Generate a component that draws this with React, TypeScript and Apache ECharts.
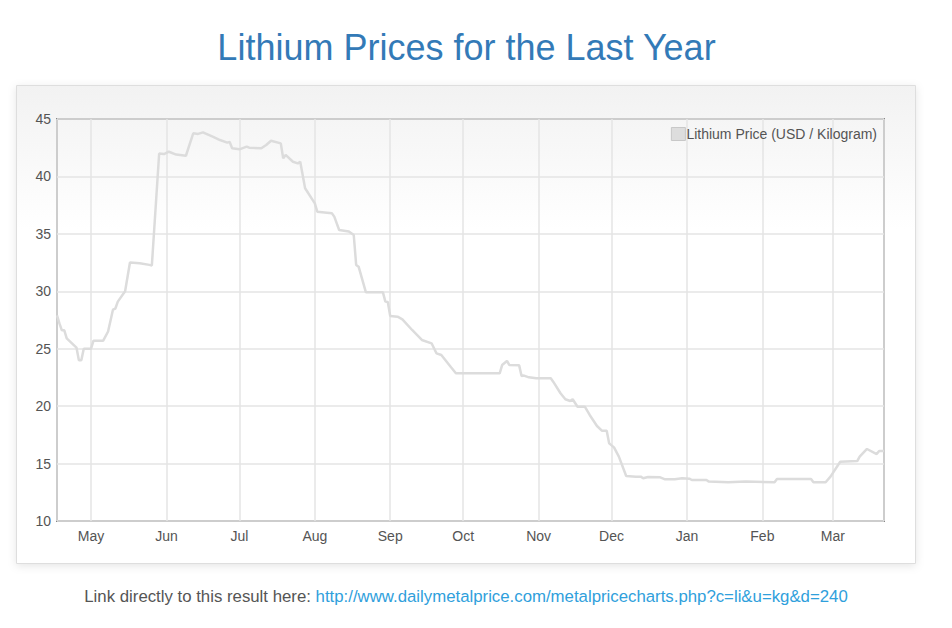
import React, { useEffect, useRef } from "react";
import * as echarts from "echarts";

const TITLE = "Lithium Prices for the Last Year";
const SERIES_NAME = "Lithium Price (USD / Kilogram)";
const FOOTER_LABEL = "Link directly to this result here: ";
const FOOTER_LINK = "http://www.dailymetalprice.com/metalpricecharts.php?c=li&u=kg&d=240";
const MONTHS = ["Jan", "Feb", "Mar", "Apr", "May", "Jun", "Jul", "Aug", "Sep", "Oct", "Nov", "Dec"];
const X_MIN = "2023-04-17";
const X_MAX = "2024-03-22";
const Y_MIN = 10;
const Y_MAX = 45;
const Y_STEP = 5;

const dates = [
  "2023-04-17", "2023-04-18", "2023-04-19", "2023-04-20", "2023-04-21", "2023-04-25", "2023-04-26", "2023-04-27", "2023-04-28",
  "2023-05-01", "2023-05-02", "2023-05-06", "2023-05-08", "2023-05-10", "2023-05-11", "2023-05-12", "2023-05-15", "2023-05-17", "2023-05-21", "2023-05-25", "2023-05-26", "2023-05-29", "2023-05-31",
  "2023-06-02", "2023-06-05", "2023-06-09", "2023-06-12", "2023-06-14", "2023-06-16", "2023-06-20", "2023-06-23", "2023-06-26", "2023-06-27", "2023-06-28",
  "2023-07-01", "2023-07-04", "2023-07-05", "2023-07-10", "2023-07-12", "2023-07-14", "2023-07-18", "2023-07-19", "2023-07-20", "2023-07-23", "2023-07-25", "2023-07-26", "2023-07-28",
  "2023-08-01", "2023-08-02", "2023-08-08", "2023-08-09", "2023-08-11", "2023-08-15", "2023-08-17", "2023-08-18", "2023-08-19", "2023-08-22", "2023-08-29", "2023-08-30", "2023-08-31",
  "2023-09-01", "2023-09-04", "2023-09-06", "2023-09-10", "2023-09-14", "2023-09-18", "2023-09-20", "2023-09-22", "2023-09-26", "2023-09-28",
  "2023-10-16", "2023-10-17", "2023-10-19", "2023-10-20", "2023-10-24", "2023-10-25", "2023-10-26", "2023-10-28", "2023-10-31",
  "2023-11-06", "2023-11-07", "2023-11-10", "2023-11-12", "2023-11-14", "2023-11-15", "2023-11-17", "2023-11-20", "2023-11-22", "2023-11-25", "2023-11-27", "2023-11-29", "2023-11-30",
  "2023-12-02", "2023-12-04", "2023-12-07", "2023-12-11", "2023-12-13", "2023-12-14", "2023-12-16", "2023-12-21", "2023-12-23", "2023-12-27", "2023-12-30",
  "2024-01-02", "2024-01-03", "2024-01-09", "2024-01-10", "2024-01-18", "2024-01-25",
  "2024-02-06", "2024-02-07", "2024-02-21", "2024-02-22", "2024-02-27", "2024-02-29",
  "2024-03-04", "2024-03-11", "2024-03-12", "2024-03-15", "2024-03-19", "2024-03-20", "2024-03-22",
];

const prices = [
  27.9, 27.2, 26.6, 26.6, 25.9, 25.1, 24.0, 24.0, 25.0,
  25.0, 25.7, 25.7, 26.5, 28.4, 28.5, 29.1, 30.0, 32.5, 32.45, 32.3, 32.25, 42.0, 41.95,
  42.15, 41.9, 41.8, 43.75, 43.7, 43.84, 43.46, 43.17, 42.94, 43.0, 42.45,
  42.36, 42.6, 42.5, 42.45, 42.74, 43.11, 42.88, 41.58, 41.87, 41.28, 41.14, 41.28, 38.97,
  37.66, 36.93, 36.79, 36.5, 35.34, 35.2, 34.9, 32.29, 32.14, 29.91, 29.91, 29.1, 29.07,
  27.85, 27.79, 27.56, 26.63, 25.76, 25.47, 24.6, 24.45, 23.38, 22.86,
  22.86, 23.58, 23.93, 23.58, 23.55, 22.63, 22.66, 22.51, 22.42,
  22.42, 22.13, 21.12, 20.6, 20.45, 20.6, 19.95, 19.95, 19.23, 18.27, 17.86, 17.86, 16.76,
  16.41, 15.6, 13.92, 13.86, 13.86, 13.72, 13.83, 13.8, 13.63, 13.63, 13.72,
  13.68, 13.57, 13.57, 13.43, 13.37, 13.43,
  13.37, 13.66, 13.66, 13.37, 13.37, 13.86,
  15.16, 15.22, 15.6, 16.27, 15.83, 16.1, 16.1,
];

const DAY = 86400000;

export default function App() {
  const ref = useRef<HTMLDivElement>(null);

  useEffect(() => {
    if (!ref.current) return;
    const chart = echarts.init(ref.current, undefined, { renderer: "svg" });
    const font = "'Liberation Sans', Arial, Helvetica, sans-serif";
    const seriesData = dates.map((d, i) => [d, prices[i]]);

    chart.setOption({
      animation: false,
      textStyle: { fontFamily: font },
      graphic: [
        {
          type: "rect",
          z: -10,
          silent: true,
          shape: { x: 16.5, y: 85.5, width: 899, height: 478 },
          style: {
            fill: new echarts.graphic.LinearGradient(0, 0, 0, 1, [
              { offset: 0, color: "#f2f2f2" },
              { offset: 0.3, color: "#ffffff" },
              { offset: 1, color: "#ffffff" },
            ]),
            stroke: "#dedede",
            lineWidth: 1,
            shadowBlur: 8,
            shadowColor: "rgba(0,0,0,0.10)",
            shadowOffsetY: 2,
          },
        },
        {
          type: "text",
          x: 466.5,
          y: 47,
          style: {
            text: TITLE,
            align: "center",
            verticalAlign: "middle",
            fontSize: 36,
            fontFamily: font,
            fill: "#337ab7",
          },
        },
        {
          type: "text",
          x: 466,
          y: 596,
          style: {
            text: "{a|" + FOOTER_LABEL + "}{b|" + FOOTER_LINK + "}",
            align: "center",
            verticalAlign: "middle",
            fontSize: 16.8,
            fontFamily: font,
            fill: "#555555",
            rich: {
              a: { fontSize: 16.8, fill: "#555555", fontFamily: font },
              b: { fontSize: 16.8, fill: "#2fa0dc", fontFamily: font },
            },
          },
        },
      ],
      legend: {
        data: [SERIES_NAME],
        right: 75,
        top: 127,
        icon: "rect",
        itemWidth: 14,
        itemHeight: 13,
        itemGap: 0,
        padding: 0,
        textStyle: { fontSize: 14, color: "#545454", fontFamily: font, padding: [0, 0, 0, -4] },
        itemStyle: { color: "#dddddd", borderColor: "#c8c8c8", borderWidth: 1 },
      },
      grid: {
        left: 57,
        top: 119,
        right: 68,
        bottom: 107,
        show: true,
        borderColor: "#888888",
        borderWidth: 2,
        backgroundColor: "transparent",
        containLabel: false,
      },
      xAxis: {
        type: "time",
        min: X_MIN,
        max: X_MAX,
        splitNumber: 11,
        minInterval: 28 * DAY,
        maxInterval: 31 * DAY,
        axisLine: { show: false },
        axisTick: { show: false },
        axisLabel: {
          color: "#545454",
          fontSize: 14,
          margin: 8,
          hideOverlap: false,
          formatter: (v: number) => MONTHS[new Date(v).getMonth()],
        },
        splitLine: { show: true, lineStyle: { color: "#e4e4e4", width: 1.5 } },
      },
      yAxis: {
        type: "value",
        min: Y_MIN,
        max: Y_MAX,
        interval: Y_STEP,
        axisLine: { show: false },
        axisTick: { show: false },
        axisLabel: { color: "#545454", fontSize: 14, margin: 6 },
        splitLine: { show: true, lineStyle: { color: "#e4e4e4", width: 1.5 } },
      },
      series: [
        {
          name: SERIES_NAME,
          type: "line",
          data: seriesData,
          showSymbol: false,
          symbol: "none",
          color: "#dddddd",
          lineStyle: { color: "#dcdcdc", width: 2.5 },
        },
      ],
    });

    return () => chart.dispose();
  }, []);

  return (
    <div
      ref={ref}
      style={{ position: "absolute", left: 0, top: 0, width: 952, height: 628, background: "#fff" }}
    />
  );
}
